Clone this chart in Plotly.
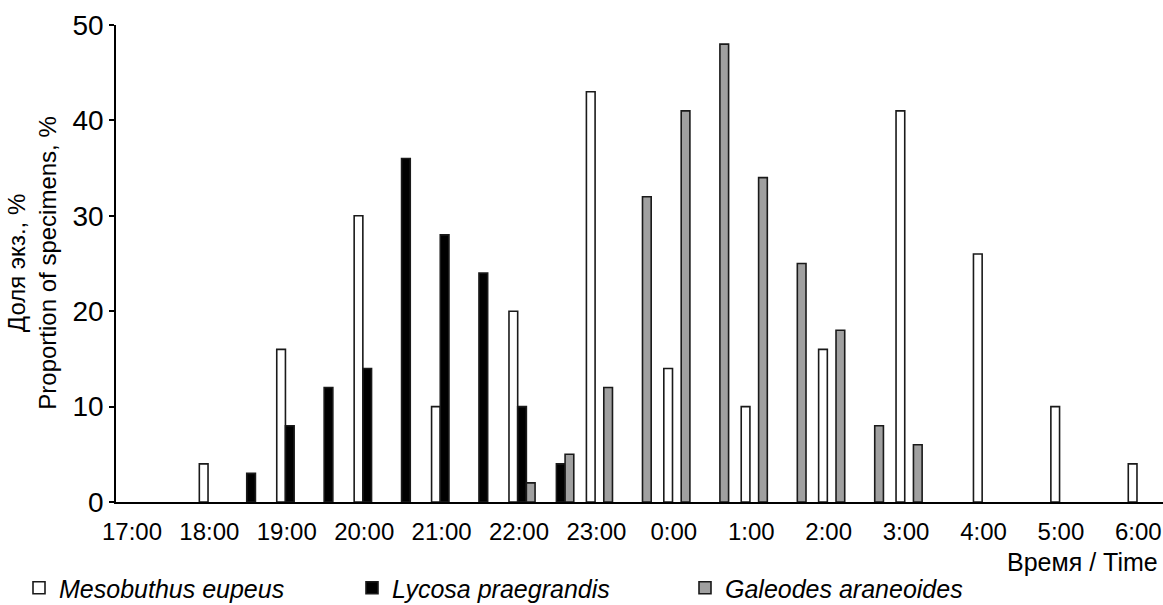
import plotly.graph_objects as go

# Half-hour time slots (categories) from 17:00 to 6:00
slots = ["17:00", "17:30", "18:00", "18:30", "19:00", "19:30", "20:00", "20:30",
         "21:00", "21:30", "22:00", "22:30", "23:00", "23:30", "0:00", "0:30",
         "1:00", "1:30", "2:00", "2:30", "3:00", "3:30", "4:00", "4:30",
         "5:00", "5:30", "6:00"]
hour_ticks = ["17:00", "18:00", "19:00", "20:00", "21:00", "22:00", "23:00",
              "0:00", "1:00", "2:00", "3:00", "4:00", "5:00", "6:00"]

mesobuthus = [None, None, 4, None, 16, None, 30, None,
              10, None, 20, None, 43, None, 14, None,
              10, None, 16, None, 41, None, 26, None,
              10, None, 4]
lycosa = [None, None, None, 3, 8, 12, 14, 36,
          28, 24, 10, 4, None, None, None, None,
          None, None, None, None, None, None, None, None,
          None, None, None]
galeodes = [None, None, None, None, None, None, None, None,
            None, None, 2, 5, 12, 32, 41, 48,
            34, 25, 18, 8, 6, None, None, None,
            None, None, None]

FONT = "Liberation Sans, Arial, sans-serif"

fig = go.Figure()
series = [
    ("Mesobuthus eupeus", mesobuthus, "#ffffff"),
    ("Lycosa praegrandis", lycosa, "#000000"),
    ("Galeodes araneoides", galeodes, "#a0a0a0"),
]
for name, vals, color in series:
    fig.add_trace(go.Bar(
        x=slots, y=vals, name=name,
        marker=dict(color=color, line=dict(color="#1a1a1a", width=1.6)),
    ))

fig.update_layout(
    width=1163, height=605,
    margin=dict(l=116, r=0, t=25, b=103, autoexpand=False),
    paper_bgcolor="white", plot_bgcolor="white",
    barmode="group", bargap=0.326, bargroupgap=0,
    font=dict(family=FONT, color="black"),
    showlegend=True,
    legend=dict(
        orientation="h",
        xref="container", x=19 / 1163, xanchor="left",
        yref="container", y=17 / 605, yanchor="middle",
        font=dict(family=FONT, size=25, style="italic", color="black"),
        entrywidth=288, itemwidth=30, bgcolor="rgba(0,0,0,0)",
    ),
)

fig.update_xaxes(
    type="category", categoryorder="array", categoryarray=slots,
    range=[-0.49, 26.56], automargin=False,
    tickmode="array", tickvals=hour_ticks, ticktext=hour_ticks,
    ticks="", showgrid=False, zeroline=False,
    showline=True, linecolor="black", linewidth=1.5,
    tickfont=dict(family=FONT, size=24, color="black"),
    ticklabelshift=-3, ticklabelstandoff=7,
)
fig.update_yaxes(
    range=[0, 50], tickvals=[0, 10, 20, 30, 40, 50], automargin=False,
    ticks="outside", ticklen=5, tickwidth=1.5, tickcolor="black",
    showgrid=False, zeroline=False,
    showline=True, linecolor="black", linewidth=1.5,
    tickfont=dict(family=FONT, size=28, color="black"),
    ticklabelstandoff=0,
)

fig.add_annotation(
    text="Доля экз., %<br>Proportion of specimens, %",
    xref="paper", yref="paper", x=-0.081, y=0.5,
    xanchor="center", yanchor="middle", textangle=-90, showarrow=False,
    font=dict(family=FONT, size=24, color="black"),
)
fig.add_annotation(
    text="Время / Time",
    xref="paper", yref="paper", x=1.0, xshift=-3, y=-0.092,
    xanchor="right", yanchor="top", showarrow=False,
    font=dict(family=FONT, size=25, color="black"),
)

fig.write_html(
    "out.html",
    config={"displayModeBar": False},
    post_script="document.body.style.margin='0';document.body.style.overflow='hidden';",
)
